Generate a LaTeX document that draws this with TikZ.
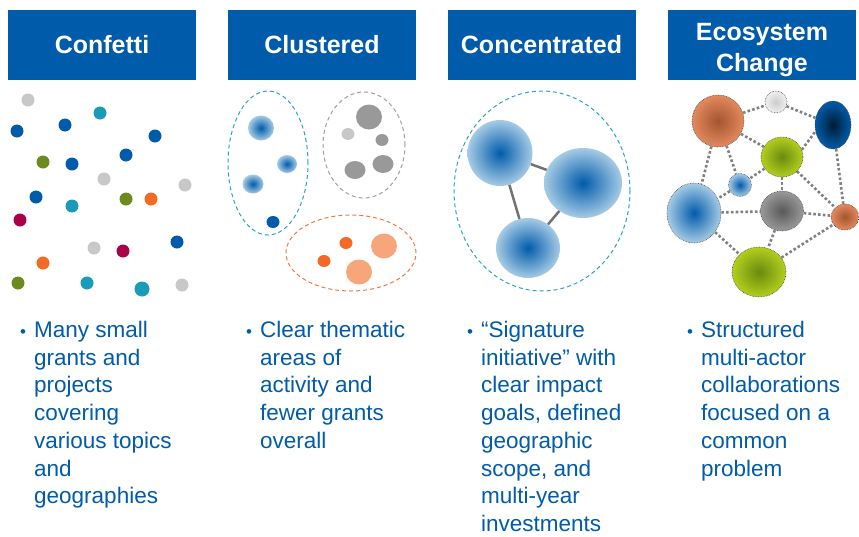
\documentclass[tikz,border=0pt]{standalone}
\usepackage{fontspec}
\setmainfont{Liberation Sans}
\usepackage{xcolor}
\usetikzlibrary{shapes.geometric}
\definecolor{hdblue}{HTML}{005BAA}
\definecolor{cfgray}{HTML}{C8C8C8}
\definecolor{cfcyan}{HTML}{1A9CB8}
\definecolor{cfolive}{HTML}{6E8A1E}
\definecolor{cforange}{HTML}{F26A24}
\definecolor{cfred}{HTML}{A8004A}
\definecolor{rimcyan}{HTML}{2BA3C0}
\definecolor{rimgray}{HTML}{A0A0A0}
\definecolor{rimorange}{HTML}{F07840}
\definecolor{paleblue}{HTML}{A6CBE5}
\definecolor{lime}{HTML}{B2CE1E}
\definecolor{limedark}{HTML}{6A8A0E}
\definecolor{rust}{HTML}{E3895E}
\definecolor{rustdark}{HTML}{A4552F}
\NewDocumentCommand{\bodyfont}{}{\fontsize{22.5}{27.7}\selectfont}
\NewDocumentCommand{\headfont}{}{\fontsize{25}{31}\selectfont\bfseries}

\begin{document}
\begin{tikzpicture}[x=1pt, y=-1pt,
    head/.style={fill=hdblue, text=white, font=\headfont,
      minimum width=188pt, minimum height=70pt, inner sep=0pt, align=center},
    body/.style={text=hdblue, font=\bodyfont, inner sep=0pt, align=left, anchor=north west},
    bul/.style={text=hdblue, font=\fontsize{17}{17}\selectfont, inner sep=0pt, anchor=base},
    dot/.style={circle, inner sep=0pt, minimum size=13pt},
    blob/.style={ellipse, inner sep=0pt},
    rim/.style={ellipse, draw, line width=1pt, dash pattern=on 4pt off 3pt, inner sep=0pt},
    bshade/.style={shade, inner color=hdblue, outer color=paleblue},
    eco/.style={ellipse, inner sep=0pt, draw=black!75, densely dotted, line width=0.6pt},
    link/.style={draw=black!50, line width=2.6pt, dash pattern=on 2.6pt off 2.2pt}]
  \useasboundingbox (0,0) rectangle (859,536);

  % headers
  \path (102,45) node[head] (hConf) {Confetti};
  \path (322,45) node[head] (hClus) {Clustered};
  \path (541.5,45) node[head] (hConc) {Concentrated};
  \path (762,45) node[head] (hEco) {};
  \path (hEco.center) ++(0,5) node[text=white, font=\headfont, align=center, inner sep=0pt] (hEcoTxt) {Ecosystem\\Change};

  % confetti
  \path (28,100) node[dot, fill=cfgray] (c1) {};
  \path (100,113) node[dot, fill=cfcyan] (c2) {};
  \path (17,131) node[dot, fill=hdblue] (c3) {};
  \path (65,125) node[dot, fill=hdblue] (c4) {};
  \path (155,136) node[dot, fill=hdblue] (c5) {};
  \path (43,162) node[dot, fill=cfolive] (c6) {};
  \path (72,164) node[dot, fill=hdblue] (c7) {};
  \path (126,155) node[dot, fill=hdblue] (c8) {};
  \path (104,179) node[dot, fill=cfgray] (c9) {};
  \path (185,185) node[dot, fill=cfgray] (c10) {};
  \path (36,197) node[dot, fill=hdblue] (c11) {};
  \path (72,206) node[dot, fill=cfcyan] (c12) {};
  \path (126,199) node[dot, fill=cfolive] (c13) {};
  \path (151,199) node[dot, fill=cforange] (c14) {};
  \path (20,220) node[dot, fill=cfred] (c15) {};
  \path (94,248) node[dot, fill=cfgray] (c16) {};
  \path (123,251) node[dot, fill=cfred] (c17) {};
  \path (177,242) node[dot, fill=hdblue] (c18) {};
  \path (43,263) node[dot, fill=cforange] (c19) {};
  \path (18,283) node[dot, fill=cfolive] (c20) {};
  \path (87,283) node[dot, fill=cfcyan] (c21) {};
  \path (142,289) node[dot, fill=cfcyan, minimum size=15pt] (c22) {};
  \path (182,285) node[dot, fill=cfgray] (c23) {};

  % clustered
  \path (268,163) node[rim, draw=rimcyan, minimum width=80pt, minimum height=144pt] (gBlue) {};
  \path (364,145) node[rim, draw=rimgray, minimum width=82pt, minimum height=106pt] (gGray) {};
  \path (351,253) node[rim, draw=rimorange, minimum width=130pt, minimum height=76pt] (gOrange) {};
  \path (261,128) node[blob, bshade, minimum width=26pt, minimum height=25pt] (u1) {};
  \path (287,164) node[blob, bshade, minimum width=20pt, minimum height=18pt] (u2) {};
  \path (253,184) node[blob, bshade, minimum width=21pt, minimum height=19pt] (u3) {};
  \path (273,222) node[blob, fill=hdblue, minimum width=13pt, minimum height=12pt] (u4) {};
  \path (369,117) node[blob, fill=black!40, minimum width=26pt, minimum height=25pt] (v1) {};
  \path (348,134) node[blob, fill=cfgray, minimum width=13pt, minimum height=12pt] (v2) {};
  \path (382,140) node[blob, fill=black!40, minimum width=13pt, minimum height=12pt] (v3) {};
  \path (355,170) node[blob, fill=black!40, minimum width=21pt, minimum height=18pt] (v4) {};
  \path (383,164) node[blob, fill=black!40, minimum width=21pt, minimum height=18pt] (v5) {};
  \path (346,243) node[blob, fill=cforange, minimum width=13pt, minimum height=12pt] (w1) {};
  \path (324,261) node[blob, fill=cforange, minimum width=13pt, minimum height=12pt] (w2) {};
  \path (384,246) node[blob, fill=cforange!60, minimum width=26pt, minimum height=25pt] (w3) {};
  \path (359,272) node[blob, fill=cforange!60, minimum width=26pt, minimum height=25pt] (w4) {};

  % concentrated
  \path (542,191) node[rim, draw=rimcyan, minimum width=176pt, minimum height=200pt] (gSig) {};
  \path (500,153) node[blob, bshade, minimum width=65pt, minimum height=66pt] (s1) {};
  \path (583,183) node[blob, bshade, minimum width=78pt, minimum height=70pt] (s2) {};
  \path (528,248) node[blob, bshade, minimum width=64pt, minimum height=60pt] (s3) {};
  \draw[black!55, line width=2.5pt] (s1) -- (s2);
  \draw[black!55, line width=2.5pt] (s1) -- (s3);
  \draw[black!55, line width=2.5pt] (s2) -- (s3);

  % ecosystem
  \path (718,121) node[eco, shade, inner color=rustdark, outer color=rust, minimum width=52pt, minimum height=52pt] (eRust) {};
  \path (776,102) node[eco, shade, inner color=black!20, outer color=black!6, minimum width=22pt, minimum height=22pt] (eLight) {};
  \path (833,125) node[eco, shade, inner color=black!70!hdblue, outer color=hdblue, minimum width=36pt, minimum height=48pt] (eNavy) {};
  \path (782,157) node[eco, shade, inner color=limedark, outer color=lime, minimum width=42pt, minimum height=40pt] (eLime) {};
  \path (740,185) node[eco, bshade, minimum width=23pt, minimum height=23pt] (eDot) {};
  \path (694,213) node[eco, bshade, minimum width=54pt, minimum height=60pt] (eBlue) {};
  \path (782,211) node[eco, shade, inner color=black!65, outer color=black!40, minimum width=43pt, minimum height=40pt] (eGray) {};
  \path (845,217) node[eco, shade, inner color=rustdark, outer color=rust, minimum width=28pt, minimum height=26pt] (eSmall) {};
  \path (759,272) node[eco, shade, inner color=limedark, outer color=lime, minimum width=54pt, minimum height=50pt] (eBig) {};
  \path[link] (eRust) -- (eLight);
  \path[link] (eLight) -- (eNavy);
  \path[link] (eRust) -- (eLime);
  \path[link] (eLime.20) -- (eNavy.200);
  \path[link] (eNavy) -- (eSmall);
  \path[link] (eRust) -- (eDot);
  \path[link] (eRust) -- (eBlue);
  \path[link] (eLime) -- (eDot);
  \path[link] (eLime) -- (eGray);
  \path[link] (eLime) -- (eSmall);
  \path[link] (eDot) -- (eBlue);
  \path[link] (eBlue) -- (eGray);
  \path[link] (eGray) -- (eSmall);
  \path[link] (eGray) -- (eBig);
  \path[link] (eBlue) -- (eBig);
  \path[link] (eBig) -- (eSmall);

  % bullet texts
  \path (23,337) node[bul] (bConf) {•};
  \path (34,321) node[body] (tConf) {Many small\\grants and\\projects\\covering\\various topics\\and\\geographies};
  \path (249,337) node[bul] (bClus) {•};
  \path (260,321) node[body] (tClus) {Clear thematic\\areas of\\activity and\\fewer grants\\overall};
  \path (470,337) node[bul] (bConc) {•};
  \path (481,321) node[body] (tConc) {“Signature\\initiative” with\\clear impact\\goals, defined\\geographic\\scope, and\\multi-year\\investments};
  \path (690,337) node[bul] (bEco) {•};
  \path (701,321) node[body] (tEco) {Structured\\multi-actor\\collaborations\\focused on a\\common\\problem};
\end{tikzpicture}
\end{document}
